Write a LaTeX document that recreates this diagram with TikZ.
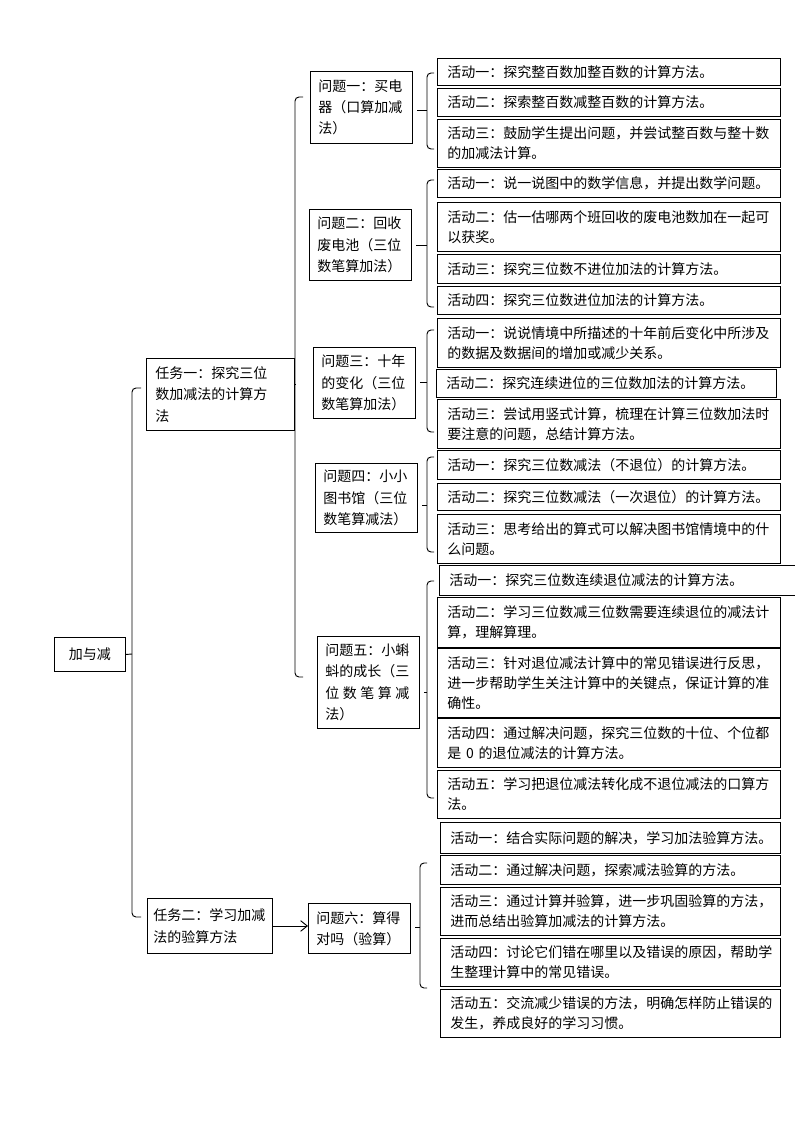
\documentclass[tikz,border=0pt]{standalone}
\usepackage{fontspec}
\setmainfont{Noto Sans CJK SC}
\usetikzlibrary{arrows.meta}
\def\px{0.75pt}
\tikzset{
  ht/.style={minimum height=#1*\px},
  box/.style={draw, line width=0.7pt, anchor=north west, align=left, inner ysep=0pt,
    font=\fontsize{10.5pt}{15pt}\selectfont},
  act/.style={box, inner xsep=7.5pt, text width=242pt, ht=#1},
  prob/.style={box, inner xsep=6pt, text width=64.5pt, ht=#1,
    font=\fontsize{10.5pt}{16pt}\selectfont},
  task/.style={box, font=\fontsize{10.5pt}{16pt}\selectfont},
  brk/.style={line width=0.7pt, rounded corners=3pt}
}
\begin{document}
\begin{tikzpicture}[x=0.75pt,y=-0.75pt]
        \useasboundingbox (0,0) rectangle (794,1123);
        %Root and tasks
        \node[box, align=center, inner xsep=0pt, minimum width=71*\px, ht=34] (root) at (54,637) {加与减};
        \node[task, inner xsep=6.75pt, text width=97.5pt, ht=72] (t1) at (146,358) {任务一：探究三位\\数加减法的计算方\\法};
        \node[task, inner xsep=4.5pt, text width=84.75pt, ht=55] (t2) at (147,898) {任务二：学习加减\\法的验算方法};
        %Problems
        \node[prob=72] (p1) at (310,71) {问题一：买电\\器（口算加减\\法）};
        \node[prob=71] (p2) at (309,209) {问题二：回收\\废电池（三位\\数笔算加法）};
        \node[prob=71] (p3) at (313,347) {问题三：十年\\的变化（三位\\数笔算加法）};
        \node[prob=69] (p4) at (315,463) {问题四：小小\\图书馆（三位\\数笔算减法）};
        \node[prob=92] (p5) at (317,636) {问题五：小蝌\\蚪的成长（三\\\makebox[63pt][l]{位\hfill 数\hfill 笔\hfill 算\hfill 减}\\法）};
        \node[prob=50] (p6) at (308,903) {问题六：算得\\对吗（验算）};
        %Activities of problem one
        \node[act=27] (a11) at (437,58) {活动一：探究整百数加整百数的计算方法。};
        \node[act=28] (a12) at (437,88) {活动二：探索整百数减整百数的计算方法。};
        \node[act=48] (a13) at (437,119) {活动三：鼓励学生提出问题，并尝试整百数与整十数\\的加减法计算。};
        %Activities of problem two
        \node[act=28] (a21) at (437,169) {活动一：说一说图中的数学信息，并提出数学问题。};
        \node[act=49] (a22) at (437,202) {活动二：估一估哪两个班回收的废电池数加在一起可\\以获奖。};
        \node[act=29] (a23) at (437,254) {活动三：探究三位数不进位加法的计算方法。};
        \node[act=28] (a24) at (437,286) {活动四：探究三位数进位加法的计算方法。};
        %Activities of problem three
        \node[act=49] (a31) at (437,318) {活动一：说说情境中所描述的十年前后变化中所涉及\\的数据及数据间的增加或减少关系。};
        \node[act=28, text width=240pt] (a32) at (436,369) {活动二：探究连续进位的三位数加法的计算方法。};
        \node[act=49] (a33) at (437,399) {活动三：尝试用竖式计算，梳理在计算三位数加法时\\要注意的问题，总结计算方法。};
        %Activities of problem four
        \node[act=29] (a41) at (437,450) {活动一：探究三位数减法（不退位）的计算方法。};
        \node[act=27] (a42) at (437,483) {活动二：探究三位数减法（一次退位）的计算方法。};
        \node[act=49] (a43) at (437,514) {活动三：思考给出的算式可以解决图书馆情境中的什\\么问题。};
        %Activities of problem five
        \node[act=30, text width=256pt] (a51) at (439,565) {活动一：探究三位数连续退位减法的计算方法。};
        \node[act=50] (a52) at (437,597) {活动二：学习三位数减三位数需要连续退位的减法计\\算，理解算理。};
        \node[act=69] (a53) at (437,648) {活动三：针对退位减法计算中的常见错误进行反思，\\进一步帮助学生关注计算中的关键点，保证计算的准\\确性。};
        \node[act=49] (a54) at (437,718) {活动四：通过解决问题，探究三位数的十位、个位都\\是 0 的退位减法的计算方法。};
        \node[act=48] (a55) at (437,770) {活动五：学习把退位减法转化成不退位减法的口算方\\法。};
        %Activities of problem six
        \node[act=31, text width=240pt] (a61) at (440,822) {活动一：结合实际问题的解决，学习加法验算方法。};
        \node[act=29, text width=240pt] (a62) at (440,855) {活动二：通过解决问题，探索减法验算的方法。};
        \node[act=48, text width=240pt] (a63) at (440,887) {活动三：通过计算并验算，进一步巩固验算的方法，\\进而总结出验算加减法的计算方法。};
        \node[act=48, text width=240pt] (a64) at (440,938) {活动四：讨论它们错在哪里以及错误的原因，帮助学\\生整理计算中的常见错误。};
        \node[act=48, text width=240pt] (a65) at (440,989) {活动五：交流减少错误的方法，明确怎样防止错误的\\发生，养成良好的学习习惯。};
        %Draw braces
        \coordinate (rb) at (132,654);
        \draw[brk] (141,388) -- (132,388) -- (132,917) -- (141,917);
        \draw[line width=0.7pt] (root.east) -- (rb);
        \coordinate (tb) at (295,384);
        \draw[brk] (303,97) -- (295,97) -- (295,677) -- (303,677);
        \draw[line width=0.7pt] (tb) -- (tb -| t1.east);
        \foreach \xb/\ytop/\ybot/\ymid/\pn in {427/73/149/110/p1, 427/180/307/245/p2,
            427/330/432/382/p3, 427/457/552/505/p4, 427/581/798/692/p5, 420/863/988/927/p6}
          {
            \draw[brk] (\xb+7,\ytop) -- (\xb,\ytop) -- (\xb,\ybot) -- (\xb+7,\ybot);
            \coordinate (m) at (\xb,\ymid);
            \draw[line width=0.7pt] (m) -- ([xshift=3pt]m -| \pn.east);
          }
        %Draw arrow
        \draw[-{Straight Barb[length=5pt,width=8pt]}, line width=0.7pt] (t2.east) -- (t2.east -| p6.west);
\end{tikzpicture}
\end{document}
